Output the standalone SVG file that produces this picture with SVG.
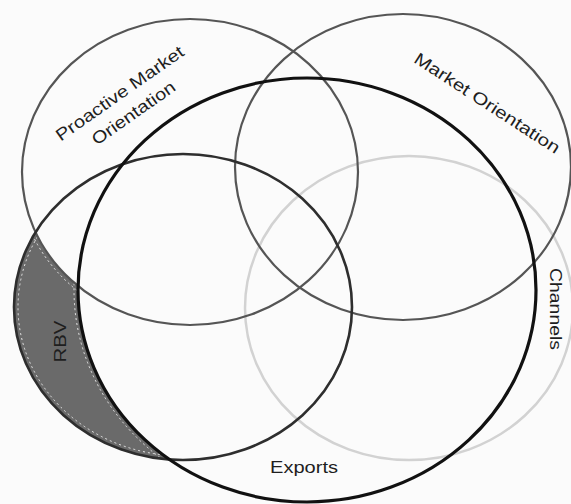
<svg xmlns="http://www.w3.org/2000/svg" width="571" height="504" viewBox="0 0 571 504">
  <style>
    .lbl { font-family: "Liberation Sans", Arial, sans-serif; font-size: 17px; fill: #1e1e1e; }
    .set { fill: none; }
  </style>
  <defs>
    <mask id="rbvOnly" maskUnits="userSpaceOnUse" x="0" y="0" width="571" height="504">
      <ellipse cx="183" cy="307" rx="169" ry="153" fill="#fff"/>
      <ellipse cx="190" cy="172" rx="168" ry="153" fill="#000"/>
      <ellipse cx="307" cy="290" rx="229" ry="212" fill="#000"/>
    </mask>
  </defs>
  <rect width="571" height="504" fill="#fbfbfb"/>

  <g id="rbv-shade" mask="url(#rbvOnly)">
    <rect x="0" y="150" width="360" height="320" fill="#6a6a6a"/>
    <ellipse cx="183" cy="307" rx="165" ry="149" fill="none" stroke="#e8e8e8" stroke-width="1" stroke-dasharray="2 3"/>
    <ellipse cx="307" cy="290" rx="233" ry="216" fill="none" stroke="#e8e8e8" stroke-width="1" stroke-dasharray="2 3"/>
    <ellipse cx="190" cy="172" rx="172" ry="157" fill="none" stroke="#e8e8e8" stroke-width="1" stroke-dasharray="2 3"/>
  </g>

  <g id="channels">
    <ellipse class="set" cx="409" cy="308" rx="164" ry="152" stroke="#d2d2d2" stroke-width="2.5"/>
    <text class="lbl" transform="translate(550,309) rotate(90)" text-anchor="middle" textLength="82" lengthAdjust="spacingAndGlyphs">Channels</text>
  </g>

  <g id="proactive-market-orientation">
    <ellipse class="set" cx="190" cy="172" rx="168" ry="153" stroke="#555" stroke-width="2.2"/>
    <g transform="translate(126.5,103) rotate(-35)">
      <text class="lbl" x="0" y="-6" text-anchor="middle" textLength="152" lengthAdjust="spacingAndGlyphs">Proactive Market</text>
      <text class="lbl" x="0" y="18" text-anchor="middle" textLength="98" lengthAdjust="spacingAndGlyphs">Orientation</text>
    </g>
  </g>

  <g id="market-orientation">
    <ellipse class="set" cx="403" cy="167" rx="168" ry="153" stroke="#555" stroke-width="2.2"/>
    <text class="lbl" transform="translate(484,108) rotate(33)" text-anchor="middle" textLength="170" lengthAdjust="spacingAndGlyphs">Market Orientation</text>
  </g>

  <g id="rbv">
    <ellipse class="set" cx="183" cy="307" rx="169" ry="153" stroke="#2e2e2e" stroke-width="2.6"/>
    <text class="lbl" transform="translate(66,341.5) rotate(-90)" text-anchor="middle" textLength="42" lengthAdjust="spacingAndGlyphs">RBV</text>
  </g>

  <g id="exports">
    <ellipse class="set" cx="307" cy="290" rx="229" ry="212" stroke="#111" stroke-width="3.2"/>
    <text class="lbl" x="304" y="473" text-anchor="middle" textLength="68" lengthAdjust="spacingAndGlyphs">Exports</text>
  </g>
</svg>
